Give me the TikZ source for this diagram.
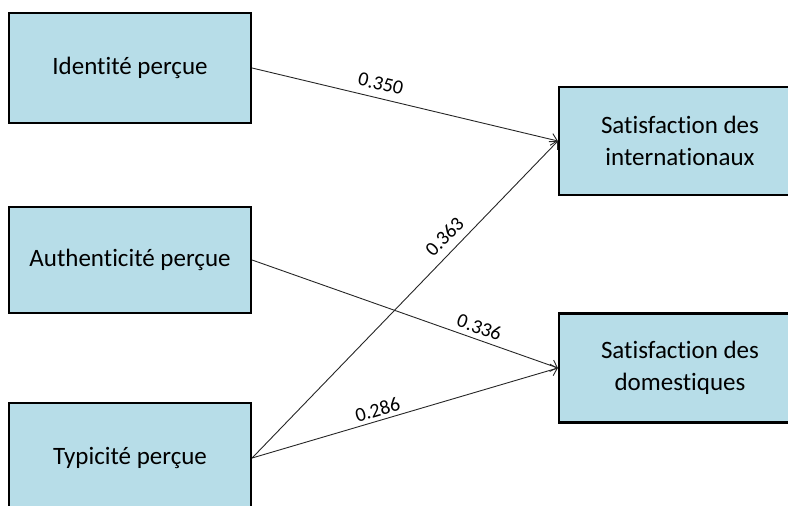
\documentclass[tikz,border=0pt]{standalone}
\usepackage{fontspec}
\setmainfont{Carlito}[Ligatures=NoCommon]
\usetikzlibrary{arrows.meta}
\definecolor{boxfill}{HTML}{B7DDE8}
\definecolor{linecol}{HTML}{262626}
\tikzset{
  varbox/.style={draw=black, line width=2.2pt, fill=boxfill, inner sep=0pt,
    font=\fontsize{25}{32}\selectfont, align=center, text=black},
  path/.style={draw=linecol, line width=0.9pt, -{Straight Barb[length=6pt,width=12pt,line width=0.9pt]}},
  coef/.style={font=\fontsize{20}{22}\selectfont, text=black, sloped, inner sep=3pt}
}
\begin{document}
\begin{tikzpicture}[x=1pt,y=-1pt]
\useasboundingbox (0,0) rectangle (788,506);
\clip (0,0) rectangle (788,506);
\node[varbox, minimum width=242pt, minimum height=110pt] (id) at (130,68) {Identité perçue};
\node[varbox, minimum width=242pt, minimum height=106pt] (au) at (130,260) {Authenticité perçue};
\node[varbox, minimum width=242pt, minimum height=110pt] (ty) at (130,458) {Typicité perçue};
\node[varbox, minimum width=242pt, minimum height=108pt] (si) at (680,141) {Satisfaction des\\internationaux};
\node[varbox, minimum width=242pt, minimum height=109pt] (sd) at (680,368) {Satisfaction des\\domestiques};
\draw[path] (id.east) -- node[coef, pos=0.41, above=4.5pt] {0.350} (si.west);
\draw[path] (ty.east) -- node[coef, pos=0.665, above=5pt] {0.363} (si.west);
\draw[path] (au.east) -- node[coef, pos=0.73, above=2pt] {0.336} (sd.west);
\draw[path] (ty.east) -- node[coef, pos=0.42, above=0.5pt] {0.286} (sd.west);
\end{tikzpicture}
\end{document}
